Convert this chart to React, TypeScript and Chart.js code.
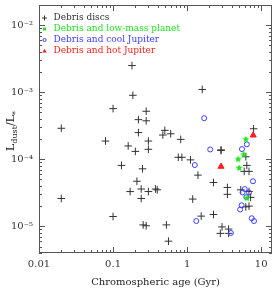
import React, { useEffect, useRef } from 'react';
import { Chart, registerables } from 'chart.js';

Chart.register(...registerables);

// ---- data (age in Gyr, L_dust / L_star) ----
const debrisAge = [
  0.1, 0.02, 0.18, 0.185, 0.28, 0.22, 0.28, 0.22, 0.5, 0.47, 0.6, 0.079, 0.3, 0.82, 1.6, 7.9,
  0.16, 0.2, 0.3, 0.76, 0.85, 1.11, 0.13, 0.25, 1.4, 0.21, 0.17, 0.24, 0.3, 0.375, 0.395, 0.24,
  0.02, 1.19, 0.1, 0.255, 0.28, 0.525, 0.56, 2.87, 2.87, 6.4, 6.2, 5.9, 6.85, 2.27, 3.5, 3.5,
  5.3, 6.85, 7.2, 6.2, 6.85, 1.55, 2.27, 2.96, 3.63, 2.81, 3.63,
];
const debrisLdust = [
  5.7e-4, 2.9e-4, 2.5e-3, 9.0e-4, 5.2e-4, 3.9e-4, 3.75e-4, 2.5e-4, 2.7e-4, 2.3e-4, 2.4e-4, 1.87e-4, 1.87e-4, 1.98e-4, 1.1e-3, 2.85e-4,
  1.58e-4, 1.31e-4, 1.41e-4, 1.07e-4, 1.07e-4, 9.8e-5, 8.1e-5, 7.2e-5, 5.8e-5, 4.7e-5, 3.3e-5, 3.6e-5, 3.3e-5, 3.6e-5, 3.5e-5, 2.6e-5,
  2.6e-5, 2.55e-5, 1.4e-5, 1.05e-5, 1.02e-5, 1.05e-5, 6.0e-6, 1.38e-4, 1.35e-4, 8.1e-5, 1.09e-4, 6.6e-5, 6.6e-5, 4.5e-5, 3.8e-5, 3.0e-5,
  3.5e-5, 3.3e-5, 2.7e-5, 1.95e-5, 2.0e-5, 1.42e-5, 1.5e-5, 9.8e-6, 9.1e-6, 7.85e-6, 7.85e-6,
];
const lowMassAge = [6.2, 5.8, 4.9, 5.05, 6.4];
const lowMassLdust = [1.98e-4, 1.18e-4, 1.0e-4, 7.4e-5, 2.63e-5];
const coolJupAge = [1.7, 6.4, 2.05, 5.5, 1.27, 7.75, 6.0, 5.6, 6.85, 6.3, 5.45, 5.2, 1.33, 7.45, 8.0, 3.9];
const coolJupLdust = [4.1e-4, 1.67e-4, 1.4e-4, 1.42e-4, 8.2e-5, 4.7e-5, 3.6e-5, 3.2e-5, 3.2e-5, 2.72e-5, 2.06e-5, 1.78e-5, 1.2e-5, 1.32e-5, 1.2e-5, 7.95e-6];
const hotJupAge = [7.8, 2.87];
const hotJupLdust = [2.28e-4, 7.8e-5];

const seriesLabels = ['Debris discs', 'Debris and low-mass planet', 'Debris and cool Jupiter', 'Debris and hot Jupiter'];
const seriesColors = ['#333333', '#1fe61f', '#3c3cff', '#ff1e1e'];

const xTickValues = [0.01, 0.1, 1, 10];
const xTickLabels = ['0.01', '0.1', '1', '10'];
const yTickValues = [1e-5, 1e-4, 1e-3, 1e-2];
const yTickLabels = ['10\u207B\u2075', '10\u207B\u2074', '10\u207B\u00B3', '10\u207B\u00B2'];
const xTitle = 'Chromospheric age (Gyr)';
const yTitleMain = 'L';
const yTitleSub = 'dust';
const yTitleMid = '/L';
const yTitleSub2 = '*';

const X_MIN = 0.01, X_MAX = 14, Y_MIN = 4e-6, Y_MAX = 2e-2;
const FONT = '"DejaVu Serif", serif';

function pts(xs: number[], ys: number[]) {
  return xs.map((x, i) => ({ x, y: ys[i] }));
}

function makeStar(r: number, color: string): HTMLCanvasElement {
  const c = document.createElement('canvas');
  const s = Math.ceil(r * 2 + 2);
  c.width = s; c.height = s;
  const g = c.getContext('2d')!;
  g.fillStyle = color;
  g.beginPath();
  for (let i = 0; i < 10; i++) {
    const rr = i % 2 === 0 ? r : r * 0.45;
    const a = -Math.PI / 2 + (i * Math.PI) / 5;
    const px = s / 2 + rr * Math.cos(a), py = s / 2 + rr * Math.sin(a);
    if (i === 0) g.moveTo(px, py); else g.lineTo(px, py);
  }
  g.closePath();
  g.fill();
  return c;
}

const framePlugin = {
  id: 'frameTicks',
  afterDatasetsDraw(chart: any) {
    const { ctx, chartArea } = chart;
    const { left, right, top, bottom } = chartArea;
    const xs = chart.scales.x, ys = chart.scales.y;
    ctx.save();
    ctx.strokeStyle = '#555';
    ctx.lineWidth = 1;
    ctx.strokeRect(left + 0.5, top + 0.5, right - left - 1, bottom - top - 1);
    ctx.beginPath();
    const decades = (mn: number, mx: number) => {
      const out: { v: number; major: boolean }[] = [];
      for (let e = Math.floor(Math.log10(mn)); e <= Math.ceil(Math.log10(mx)); e++) {
        for (let m = 1; m <= 9; m++) {
          const v = m * Math.pow(10, e);
          if (v >= mn * 0.999 && v <= mx * 1.001) out.push({ v, major: m === 1 });
        }
      }
      return out;
    };
    for (const t of decades(X_MIN, X_MAX)) {
      const px = Math.round(xs.getPixelForValue(t.v)) + 0.5;
      const l = t.major ? 6 : 3;
      ctx.moveTo(px, bottom); ctx.lineTo(px, bottom - l);
      ctx.moveTo(px, top); ctx.lineTo(px, top + l);
    }
    for (const t of decades(Y_MIN, Y_MAX)) {
      const py = Math.round(ys.getPixelForValue(t.v)) + 0.5;
      const l = t.major ? 6 : 3;
      ctx.moveTo(left, py); ctx.lineTo(left + l, py);
      ctx.moveTo(right, py); ctx.lineTo(right - l, py);
    }
    ctx.stroke();
    ctx.restore();
  },
  afterDraw(chart: any) {
    const { ctx, chartArea } = chart;
    // y-axis title with subscripts
    ctx.save();
    ctx.translate(13.5, (chartArea.top + chartArea.bottom) / 2 + 2);
    ctx.rotate(-Math.PI / 2);
    ctx.fillStyle = '#222';
    ctx.textBaseline = 'alphabetic';
    const big = `11px ${FONT}`, small = `8px ${FONT}`;
    const parts: [string, string, number][] = [
      [yTitleMain, big, 0], [yTitleSub, small, 3], [yTitleMid, big, 0], [yTitleSub2, small, 4],
    ];
    let total = 0;
    for (const p of parts) { ctx.font = p[1]; total += ctx.measureText(p[0]).width; }
    let x = -total / 2;
    for (const p of parts) {
      ctx.font = p[1];
      ctx.fillText(p[0], x, p[2]);
      x += ctx.measureText(p[0]).width;
    }
    ctx.restore();

    // legend inside plot
    ctx.save();
    const mx = chartArea.left + 5.5, tx = chartArea.left + 14.5;
    ctx.font = `9px ${FONT}`;
    ctx.textBaseline = 'middle';
    seriesLabels.forEach((lab, i) => {
      const y = chartArea.top + 13 + i * 11;
      const col = seriesColors[i];
      ctx.strokeStyle = col; ctx.fillStyle = col; ctx.lineWidth = 1;
      if (i === 0) {
        ctx.beginPath();
        ctx.moveTo(mx - 2.5, y); ctx.lineTo(mx + 2.5, y);
        ctx.moveTo(mx, y - 2.5); ctx.lineTo(mx, y + 2.5);
        ctx.stroke();
      } else if (i === 1) {
        ctx.fillRect(mx - 1.5, y - 1.5, 3, 3);
      } else if (i === 2) {
        ctx.beginPath(); ctx.arc(mx, y, 1.6, 0, Math.PI * 2); ctx.stroke();
      } else {
        ctx.beginPath();
        ctx.moveTo(mx, y - 2.2); ctx.lineTo(mx + 2.2, y + 1.6); ctx.lineTo(mx - 2.2, y + 1.6);
        ctx.closePath(); ctx.fill();
      }
      ctx.fillText(lab, tx, y);
    });
    ctx.restore();
  },
};

export default function App() {
  const ref = useRef<HTMLCanvasElement | null>(null);
  useEffect(() => {
    if (!ref.current) return;
    const star = makeStar(3.8, seriesColors[1]);
    const chart = new Chart(ref.current, {
      type: 'scatter',
      data: {
        datasets: [
          {
            label: seriesLabels[0], data: pts(debrisAge, debrisLdust), order: 4,
            pointStyle: 'cross', pointRadius: 3.8, borderColor: seriesColors[0], borderWidth: 1,
            backgroundColor: seriesColors[0],
          },
          {
            label: seriesLabels[2], data: pts(coolJupAge, coolJupLdust), order: 3,
            pointStyle: 'circle', pointRadius: 2.5, borderColor: seriesColors[2], borderWidth: 1,
            backgroundColor: 'rgba(0,0,0,0)',
          },
          {
            label: seriesLabels[1], data: pts(lowMassAge, lowMassLdust), order: 2,
            pointStyle: star as any, pointRadius: 4, borderColor: seriesColors[1],
            backgroundColor: seriesColors[1],
          },
          {
            label: seriesLabels[3], data: pts(hotJupAge, hotJupLdust), order: 1,
            pointStyle: 'triangle', pointRadius: 3.5, borderColor: seriesColors[3], borderWidth: 1,
            backgroundColor: seriesColors[3],
          },
        ],
      },
      options: {
        responsive: false,
        animation: false,
        devicePixelRatio: 1,
        layout: { padding: { top: 1, right: 2, left: 0, bottom: 0 } },
        plugins: { legend: { display: false }, tooltip: { enabled: false } },
        scales: {
          x: {
            type: 'logarithmic', min: X_MIN, max: X_MAX, bounds: 'data',
            grid: { display: false, drawTicks: false }, border: { display: false },
            afterBuildTicks: (s: any) => { s.ticks = xTickValues.map((v) => ({ value: v })); },
            afterFit: (s: any) => { s.height = 37; s.paddingLeft = 0; s.paddingRight = 0; },
            ticks: {
              autoSkip: false, maxRotation: 0, padding: 5, color: '#333',
              font: { family: FONT, size: 10 },
              callback: (v: any) => { const i = xTickValues.indexOf(Number(v)); return i >= 0 ? xTickLabels[i] : ''; },
            },
            title: { display: true, text: xTitle, color: '#222', font: { family: FONT, size: 10 }, padding: { top: 0, bottom: 2 } },
          },
          y: {
            type: 'logarithmic', min: Y_MIN, max: Y_MAX, bounds: 'data',
            grid: { display: false, drawTicks: false }, border: { display: false },
            afterBuildTicks: (s: any) => { s.ticks = yTickValues.map((v) => ({ value: v })); },
            afterFit: (s: any) => { s.width = 39; s.paddingTop = 0; s.paddingBottom = 0; },
            ticks: {
              autoSkip: false, padding: 6, color: '#333',
              font: { family: FONT, size: 10 },
              callback: (v: any) => {
                const i = yTickValues.findIndex((t) => Math.abs(t - Number(v)) / t < 1e-6);
                return i >= 0 ? yTickLabels[i] : '';
              },
            },
          },
        },
      },
      plugins: [framePlugin],
    });
    return () => chart.destroy();
  }, []);
  return (
    <div style={{ position: 'absolute', left: 0, top: 0, width: 277, height: 290 }}>
      <canvas ref={ref} width={277} height={290} />
    </div>
  );
}
